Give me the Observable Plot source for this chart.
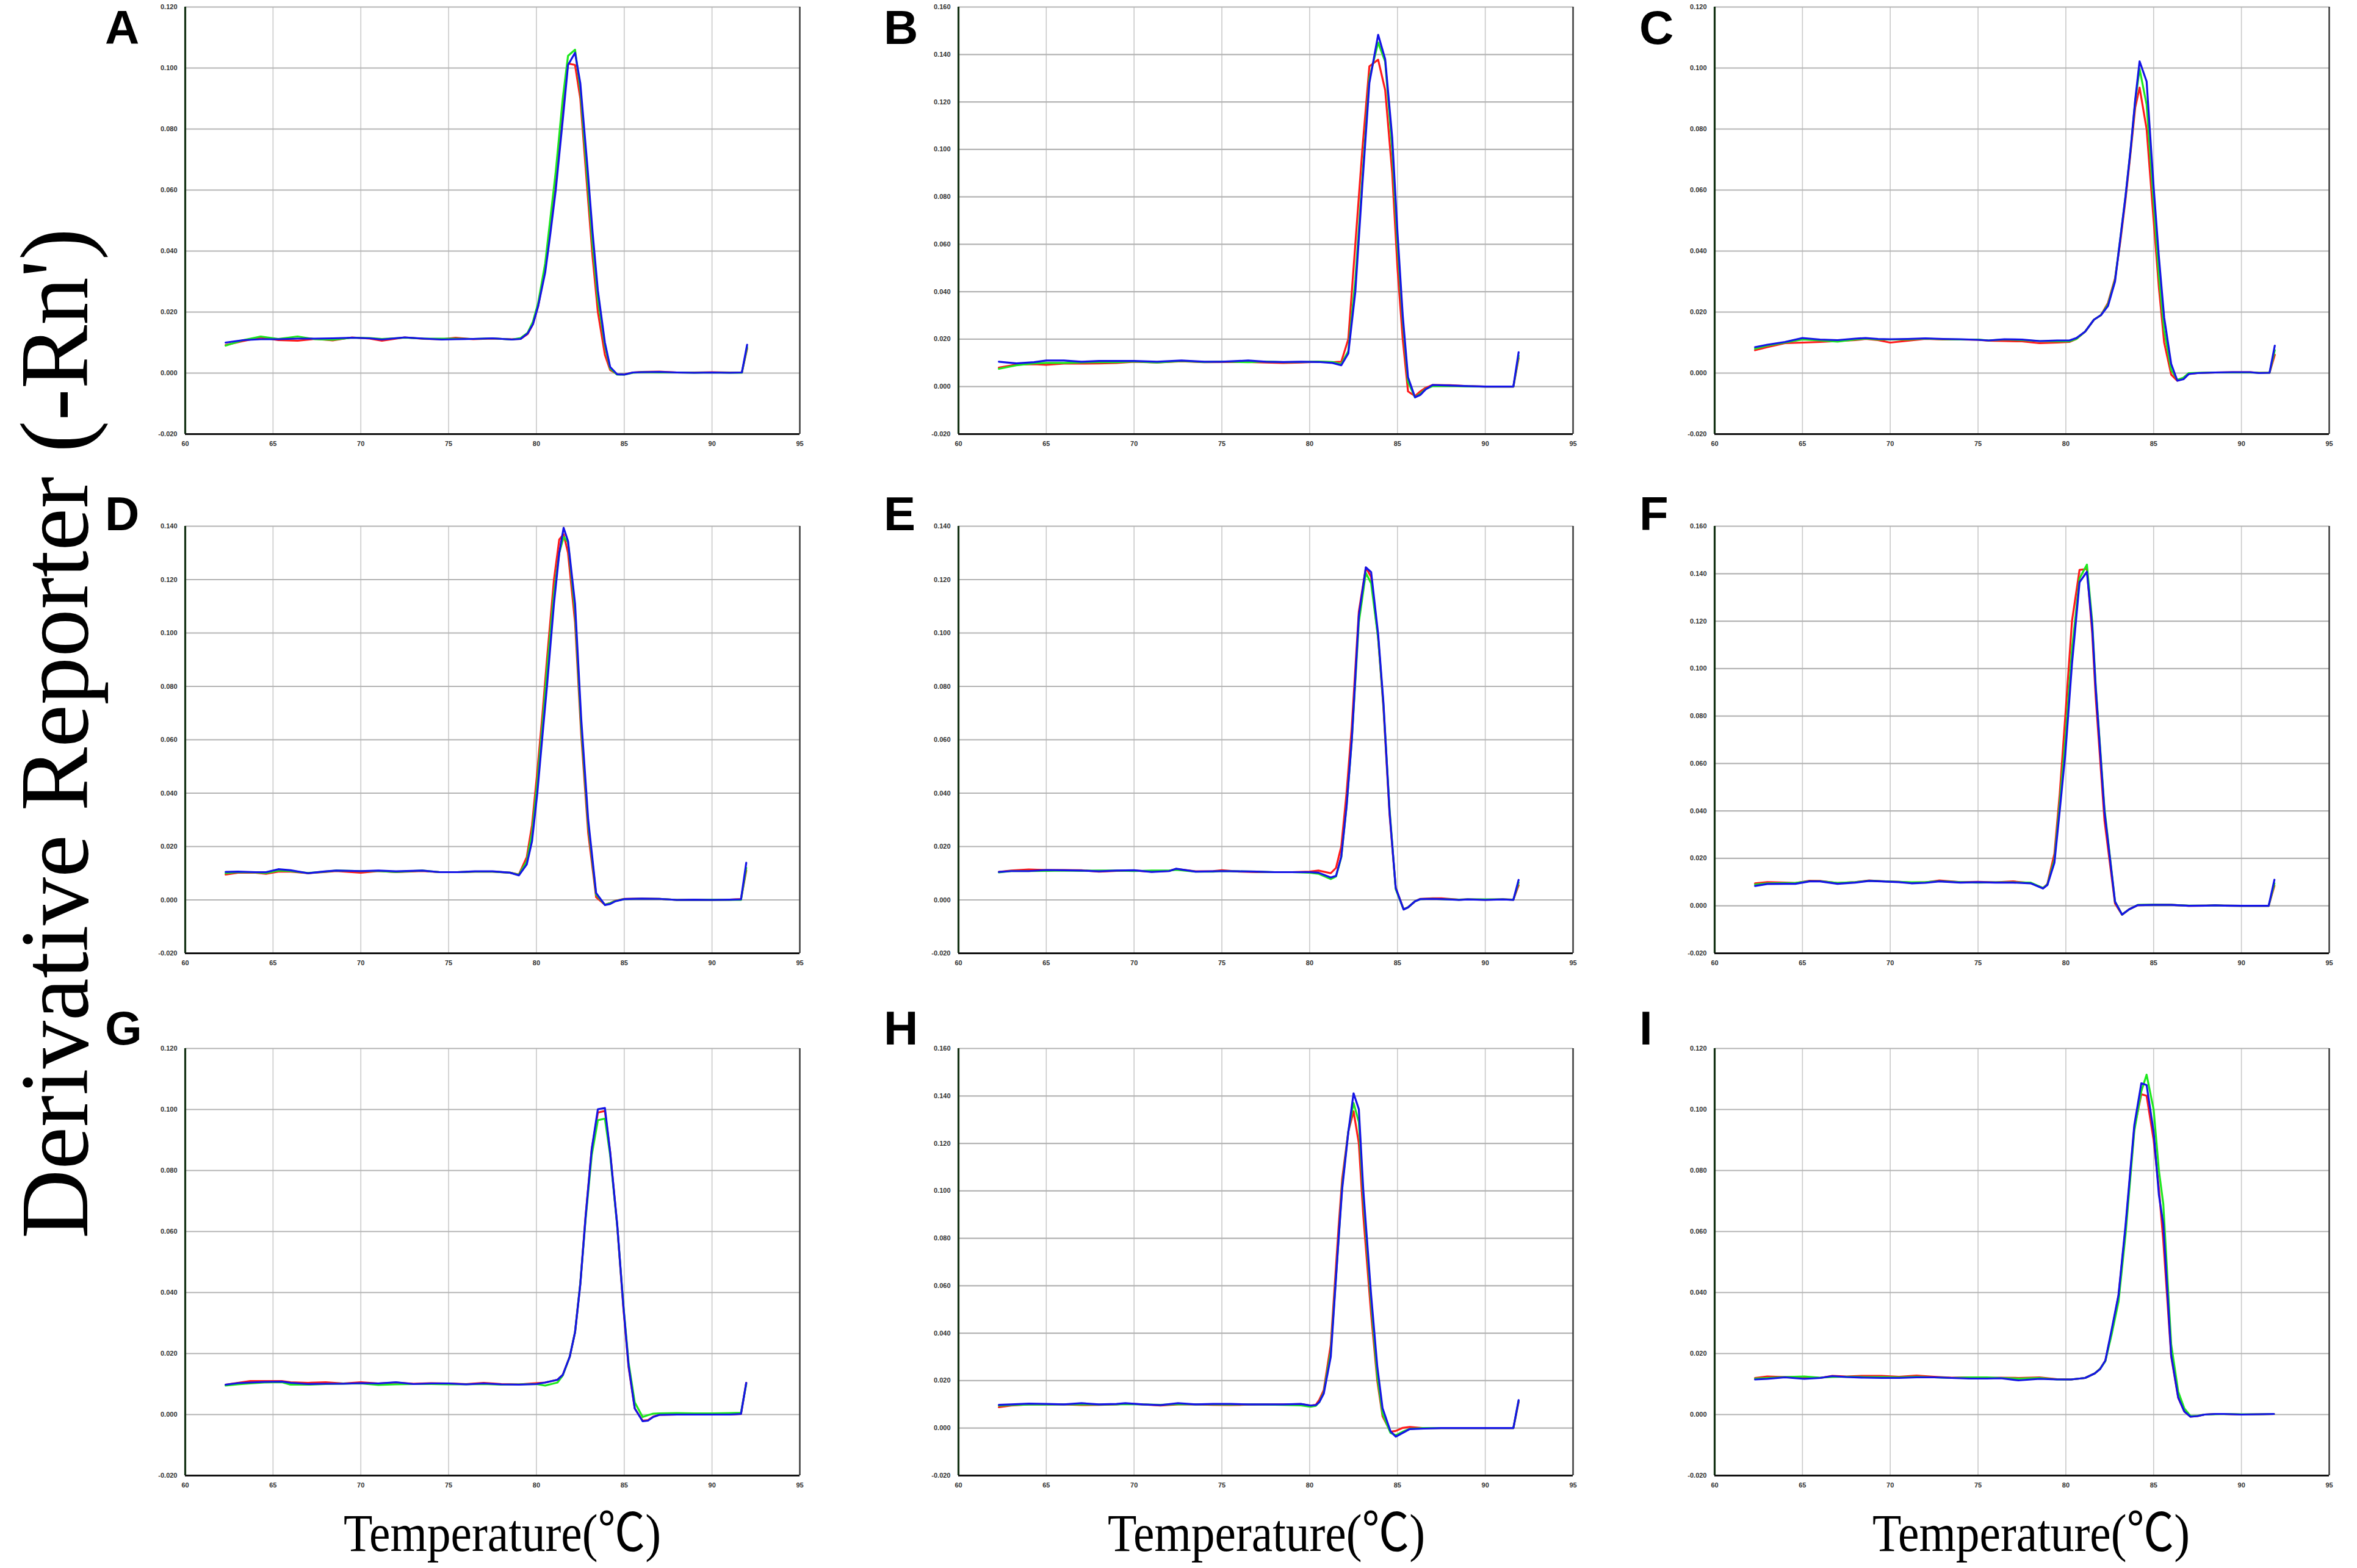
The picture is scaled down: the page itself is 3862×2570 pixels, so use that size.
<!DOCTYPE html>
<html>
<head>
<meta charset="utf-8">
<script src="https://cdn.jsdelivr.net/npm/d3@7"></script>
<script src="https://cdn.jsdelivr.net/npm/@observablehq/plot@0.6"></script>
<style>
  html, body { margin: 0; padding: 0; background: #fff; overflow: hidden; }
  #fig { position: relative; width: 3862px; height: 2570px; background: #fff; }
  .panel { position: absolute; }
  #overlay { position: absolute; left: 0; top: 0; pointer-events: none; }
</style>
</head>
<body>
<div id="fig"></div>
<script>
// ---------- tick values ----------
const X_TICKS = [60, 65, 70, 75, 80, 85, 90, 95];
const X_GRID = [65, 70, 75, 80, 85, 90];
const Y_TICKS_120 = [-0.02, 0, 0.02, 0.04, 0.06, 0.08, 0.10, 0.12];
const Y_TICKS_140 = [-0.02, 0, 0.02, 0.04, 0.06, 0.08, 0.10, 0.12, 0.14];
const Y_TICKS_160 = [-0.02, 0, 0.02, 0.04, 0.06, 0.08, 0.10, 0.12, 0.14, 0.16];
const PANEL_LABELS = ["A", "B", "C", "D", "E", "F", "G", "H", "I"];
const Y_TITLE = "Derivative Reporter (-Rn')";
const X_TITLE = "Temperature(\u2103)";

// ---------- Panel A ----------
const A_T = [62.3,63.3,64.3,65.3,66.4,67.4,68.4,69.5,70.5,71.2,72.5,73.6,74.6,75.4,76.4,77.5,78.6,79.1,79.5,79.8,80.1,80.5,80.8,81.1,81.5,81.8,82.2,82.5,82.9,83.2,83.5,83.9,84.2,84.6,85.0,85.5,86.0,87.0,88.0,89.0,90.0,91.0,91.7,92.0];
const A_R = [0.0092,0.0105,0.0117,0.0108,0.0106,0.0112,0.0107,0.0117,0.0113,0.0106,0.0117,0.0112,0.0111,0.0116,0.0111,0.0113,0.0111,0.0112,0.0128,0.0160,0.0220,0.0340,0.0480,0.0630,0.0870,0.1015,0.1010,0.0900,0.0600,0.0380,0.0200,0.0060,0.0010,-0.0004,-0.0004,0.0002,0.0004,0.0005,0.0002,0.0002,0.0003,0.0002,0.0002,0.0080];
const A_G = [0.0090,0.0108,0.0120,0.0112,0.0120,0.0111,0.0109,0.0116,0.0115,0.0112,0.0116,0.0113,0.0113,0.0113,0.0112,0.0114,0.0110,0.0115,0.0132,0.0168,0.0230,0.0360,0.0510,0.0660,0.0900,0.1040,0.1060,0.0930,0.0640,0.0420,0.0240,0.0090,0.0015,-0.0005,-0.0005,0.0001,0.0003,0.0002,0.0002,0.0001,0.0002,0.0001,0.0001,0.0085];
const A_B = [0.0100,0.0108,0.0111,0.0111,0.0113,0.0113,0.0114,0.0116,0.0114,0.0110,0.0117,0.0113,0.0110,0.0111,0.0112,0.0114,0.0110,0.0112,0.0130,0.0160,0.0220,0.0330,0.0460,0.0600,0.0830,0.1010,0.1050,0.0950,0.0680,0.0460,0.0270,0.0100,0.0020,-0.0004,-0.0005,0.0002,0.0003,0.0004,0.0002,0.0001,0.0002,0.0001,0.0002,0.0093];

// ---------- Panel B ----------
const B_T = [62.3,63.3,64.3,65.0,66.0,67.0,68.0,69.0,70.0,71.3,72.7,74.0,75.0,76.5,77.5,78.5,79.5,80.5,81.3,81.8,82.2,82.6,83.0,83.4,83.9,84.3,84.7,85.0,85.3,85.6,86.0,86.3,86.6,87.0,88.0,89.0,90.0,91.0,91.6,91.9];
const B_R = [0.0080,0.0093,0.0095,0.0092,0.0097,0.0097,0.0098,0.0100,0.0105,0.0102,0.0107,0.0103,0.0104,0.0104,0.0102,0.0100,0.0102,0.0105,0.0103,0.0105,0.0200,0.0600,0.1000,0.1350,0.1378,0.1250,0.0900,0.0500,0.0200,-0.0020,-0.0040,-0.0020,-0.0005,0.0007,0.0006,0.0002,0.0000,0.0000,0.0000,0.0120];
const B_G = [0.0075,0.0090,0.0098,0.0100,0.0100,0.0102,0.0103,0.0103,0.0106,0.0102,0.0108,0.0104,0.0106,0.0103,0.0106,0.0103,0.0104,0.0106,0.0104,0.0095,0.0150,0.0450,0.0880,0.1300,0.1450,0.1370,0.1000,0.0600,0.0280,0.0020,-0.0045,-0.0030,-0.0010,0.0002,0.0003,0.0001,0.0000,0.0000,0.0000,0.0130];
const B_B = [0.0105,0.0098,0.0103,0.0110,0.0110,0.0105,0.0108,0.0108,0.0108,0.0105,0.0110,0.0105,0.0105,0.0110,0.0105,0.0104,0.0105,0.0104,0.0100,0.0090,0.0140,0.0400,0.0850,0.1280,0.1483,0.1380,0.1050,0.0650,0.0300,0.0040,-0.0045,-0.0035,-0.0012,0.0007,0.0005,0.0002,0.0000,0.0000,0.0000,0.0145];

// ---------- Panel C ----------
const C_T = [62.3,63.0,64.0,65.0,66.0,67.0,68.0,68.6,69.3,70.0,71.0,72.0,73.0,74.0,75.0,75.6,76.5,77.5,78.5,79.5,80.2,80.6,81.1,81.6,82.0,82.4,82.8,83.1,83.4,83.7,83.95,84.2,84.6,85.0,85.3,85.6,86.0,86.35,86.7,87.0,87.5,88.5,89.5,90.5,91.0,91.6,91.9];
const C_R = [0.0075,0.0085,0.0098,0.0100,0.0102,0.0105,0.0108,0.0112,0.0108,0.0100,0.0106,0.0112,0.0110,0.0110,0.0109,0.0106,0.0105,0.0104,0.0098,0.0100,0.0102,0.0112,0.0136,0.0175,0.0190,0.0230,0.0310,0.0430,0.0570,0.0730,0.0870,0.0936,0.0800,0.0500,0.0280,0.0100,-0.0005,-0.0025,-0.0018,-0.0003,0.0000,0.0002,0.0003,0.0003,0.0001,0.0001,0.0060];
const C_G = [0.0080,0.0090,0.0100,0.0110,0.0107,0.0103,0.0110,0.0113,0.0110,0.0110,0.0110,0.0113,0.0111,0.0110,0.0110,0.0107,0.0110,0.0108,0.0105,0.0104,0.0104,0.0112,0.0136,0.0175,0.0190,0.0225,0.0305,0.0440,0.0580,0.0740,0.0890,0.0997,0.0880,0.0560,0.0320,0.0140,0.0010,-0.0022,-0.0015,0.0000,0.0001,0.0002,0.0002,0.0002,0.0001,0.0001,0.0075];
const C_B = [0.0085,0.0093,0.0102,0.0115,0.0110,0.0108,0.0113,0.0115,0.0112,0.0111,0.0112,0.0114,0.0112,0.0111,0.0109,0.0107,0.0111,0.0110,0.0105,0.0107,0.0107,0.0115,0.0136,0.0175,0.0190,0.0220,0.0300,0.0440,0.0580,0.0740,0.0895,0.1022,0.0956,0.0610,0.0380,0.0182,0.0030,-0.0025,-0.0020,-0.0003,0.0000,0.0002,0.0003,0.0003,0.0000,0.0001,0.0090];

// ---------- Panel D ----------
const D_T = [62.3,63.0,64.0,64.6,65.3,66.0,67.0,68.0,68.6,70.0,71.0,72.0,73.5,74.5,75.5,76.5,77.5,78.5,79.0,79.45,79.75,80.05,80.35,80.6,81.0,81.3,81.55,81.8,82.2,82.55,82.95,83.4,83.9,84.2,84.5,85.0,86.0,87.0,88.0,89.0,90.0,91.0,91.65,91.95];
const D_R = [0.0095,0.0102,0.0102,0.0098,0.0106,0.0106,0.0100,0.0105,0.0108,0.0102,0.0108,0.0104,0.0108,0.0104,0.0104,0.0106,0.0106,0.0102,0.0095,0.0160,0.0280,0.0480,0.0700,0.0900,0.1200,0.1350,0.1370,0.1300,0.1040,0.0620,0.0250,0.0010,-0.0018,-0.0012,-0.0003,0.0004,0.0005,0.0004,0.0000,0.0001,0.0000,0.0001,0.0003,0.0110];
const D_G = [0.0100,0.0104,0.0103,0.0101,0.0110,0.0108,0.0101,0.0106,0.0110,0.0108,0.0108,0.0105,0.0110,0.0104,0.0104,0.0106,0.0106,0.0102,0.0094,0.0145,0.0250,0.0440,0.0660,0.0860,0.1150,0.1300,0.1360,0.1340,0.1080,0.0650,0.0280,0.0020,-0.0018,-0.0012,-0.0004,0.0003,0.0004,0.0004,0.0000,0.0000,0.0001,0.0000,0.0000,0.0120];
const D_B = [0.0105,0.0106,0.0104,0.0104,0.0115,0.0111,0.0100,0.0107,0.0110,0.0108,0.0110,0.0107,0.0110,0.0104,0.0104,0.0107,0.0107,0.0102,0.0092,0.0133,0.0220,0.0400,0.0620,0.0800,0.1110,0.1300,0.1394,0.1344,0.1110,0.0680,0.0300,0.0026,-0.0019,-0.0015,-0.0005,0.0003,0.0005,0.0004,0.0000,0.0001,0.0000,0.0001,0.0002,0.0139];

// ---------- Panel E ----------
const E_T = [62.3,63.0,64.0,65.0,66.0,67.0,68.0,69.0,70.0,71.0,72.0,72.4,73.5,74.5,75.0,76.0,77.0,78.0,79.0,80.0,80.5,81.2,81.5,81.8,82.1,82.4,82.8,83.2,83.5,83.9,84.2,84.55,84.9,85.35,85.6,86.0,86.3,87.0,87.5,88.5,89.0,90.0,91.0,91.6,91.9];
const E_R = [0.0105,0.0110,0.0114,0.0112,0.0112,0.0111,0.0106,0.0109,0.0110,0.0106,0.0109,0.0116,0.0107,0.0108,0.0111,0.0106,0.0104,0.0104,0.0104,0.0106,0.0110,0.0100,0.0120,0.0200,0.0400,0.0650,0.1080,0.1245,0.1210,0.0980,0.0720,0.0320,0.0045,-0.0035,-0.0028,-0.0005,0.0004,0.0006,0.0006,0.0001,0.0002,0.0001,0.0002,0.0001,0.0055];
const E_G = [0.0103,0.0108,0.0108,0.0109,0.0110,0.0109,0.0110,0.0110,0.0108,0.0110,0.0110,0.0113,0.0106,0.0106,0.0108,0.0107,0.0106,0.0104,0.0104,0.0102,0.0098,0.0078,0.0088,0.0160,0.0350,0.0600,0.1040,0.1225,0.1186,0.0980,0.0730,0.0340,0.0040,-0.0035,-0.0028,-0.0005,0.0003,0.0004,0.0003,0.0001,0.0002,0.0002,0.0002,0.0001,0.0065];
const E_B = [0.0105,0.0108,0.0108,0.0112,0.0111,0.0110,0.0107,0.0110,0.0111,0.0105,0.0108,0.0117,0.0106,0.0107,0.0108,0.0107,0.0106,0.0104,0.0104,0.0104,0.0102,0.0084,0.0090,0.0162,0.0350,0.0600,0.1065,0.1246,0.1228,0.0995,0.0740,0.0330,0.0045,-0.0036,-0.0028,-0.0005,0.0003,0.0004,0.0003,0.0000,0.0002,0.0000,0.0002,0.0000,0.0075];

// ---------- Panel F ----------
const F_T = [62.3,63.0,64.0,64.6,65.4,66.0,67.0,68.0,68.8,69.5,70.5,71.2,72.0,72.8,74.0,75.0,76.0,77.0,78.0,78.7,78.95,79.35,79.65,79.97,80.35,80.78,81.2,81.5,81.7,82.2,82.8,83.2,83.6,84.1,85.0,86.0,87.0,88.0,88.5,89.0,90.0,91.0,91.55,91.88];
const F_R = [0.0095,0.0100,0.0098,0.0096,0.0106,0.0105,0.0096,0.0100,0.0107,0.0104,0.0101,0.0098,0.0099,0.0107,0.0100,0.0101,0.0099,0.0103,0.0096,0.0075,0.0092,0.0220,0.0470,0.0800,0.1200,0.1416,0.1420,0.1150,0.0880,0.0360,0.0010,-0.0037,-0.0015,0.0003,0.0004,0.0004,0.0000,0.0001,0.0002,0.0001,0.0000,0.0000,0.0000,0.0085];
const F_G = [0.0090,0.0095,0.0096,0.0097,0.0104,0.0104,0.0097,0.0100,0.0106,0.0104,0.0101,0.0099,0.0100,0.0104,0.0100,0.0098,0.0099,0.0099,0.0098,0.0075,0.0090,0.0195,0.0430,0.0700,0.1080,0.1380,0.1438,0.1200,0.0930,0.0410,0.0018,-0.0037,-0.0015,0.0004,0.0005,0.0004,0.0001,0.0001,0.0002,0.0001,0.0000,0.0000,0.0000,0.0095];
const F_B = [0.0084,0.0092,0.0093,0.0093,0.0103,0.0103,0.0093,0.0098,0.0105,0.0103,0.0100,0.0095,0.0097,0.0103,0.0098,0.0100,0.0098,0.0098,0.0095,0.0073,0.0088,0.0182,0.0400,0.0640,0.1020,0.1364,0.1408,0.1180,0.0920,0.0398,0.0018,-0.0037,-0.0015,0.0003,0.0004,0.0004,0.0000,0.0001,0.0002,0.0001,0.0000,0.0000,0.0000,0.0110];

// ---------- Panel G ----------
const G_T = [62.3,63.0,63.7,64.5,65.5,66.0,67.0,68.0,69.0,70.0,71.0,72.0,73.0,74.0,75.0,76.0,77.0,78.0,79.0,80.0,80.5,81.2,81.5,81.9,82.2,82.5,82.8,83.15,83.5,83.9,84.2,84.6,84.95,85.25,85.6,86.05,86.35,86.65,87.0,88.0,89.0,90.0,91.0,91.65,91.95];
const G_R = [0.0098,0.0104,0.0110,0.0110,0.0110,0.0106,0.0104,0.0106,0.0102,0.0106,0.0102,0.0105,0.0101,0.0103,0.0102,0.0100,0.0104,0.0100,0.0099,0.0103,0.0105,0.0114,0.0130,0.0190,0.0270,0.0430,0.0650,0.0870,0.0990,0.0995,0.0860,0.0620,0.0350,0.0155,0.0020,-0.0020,-0.0018,-0.0007,-0.0001,0.0000,0.0000,0.0000,0.0000,0.0002,0.0104];
const G_G = [0.0095,0.0099,0.0102,0.0105,0.0106,0.0098,0.0098,0.0100,0.0101,0.0102,0.0097,0.0099,0.0100,0.0100,0.0099,0.0099,0.0100,0.0098,0.0099,0.0100,0.0095,0.0105,0.0128,0.0190,0.0270,0.0430,0.0640,0.0850,0.0965,0.0970,0.0850,0.0620,0.0360,0.0170,0.0040,-0.0008,-0.0002,0.0003,0.0004,0.0005,0.0004,0.0004,0.0005,0.0006,0.0100];
const G_B = [0.0098,0.0103,0.0105,0.0107,0.0108,0.0104,0.0100,0.0101,0.0101,0.0103,0.0102,0.0106,0.0100,0.0102,0.0102,0.0099,0.0102,0.0099,0.0098,0.0100,0.0105,0.0114,0.0130,0.0190,0.0270,0.0427,0.0647,0.0870,0.1001,0.1005,0.0860,0.0624,0.0357,0.0160,0.0020,-0.0022,-0.0020,-0.0008,-0.0001,0.0000,0.0000,0.0000,0.0000,0.0002,0.0104];

// ---------- Panel H ----------
const H_T = [62.3,63.0,64.0,65.0,66.0,67.0,68.0,69.0,69.5,70.5,71.5,72.5,73.5,74.5,75.5,76.5,77.5,78.5,79.5,80.05,80.35,80.55,80.8,81.2,81.65,81.85,82.2,82.5,82.8,83.05,83.5,83.85,84.15,84.6,84.9,85.3,85.7,86.5,87.5,88.5,89.5,90.5,91.6,91.9];
const H_R = [0.0088,0.0095,0.0100,0.0100,0.0100,0.0097,0.0098,0.0100,0.0103,0.0100,0.0095,0.0100,0.0100,0.0098,0.0097,0.0099,0.0100,0.0100,0.0101,0.0095,0.0098,0.0120,0.0160,0.0350,0.0850,0.1050,0.1250,0.1335,0.1200,0.0900,0.0480,0.0200,0.0050,-0.0015,-0.0012,0.0001,0.0005,0.0000,0.0000,0.0000,0.0000,0.0000,0.0000,0.0110];
const H_G = [0.0095,0.0097,0.0099,0.0099,0.0100,0.0100,0.0099,0.0100,0.0101,0.0100,0.0098,0.0101,0.0100,0.0100,0.0099,0.0100,0.0099,0.0098,0.0096,0.0090,0.0094,0.0110,0.0150,0.0320,0.0800,0.1020,0.1250,0.1370,0.1290,0.0980,0.0530,0.0220,0.0060,-0.0020,-0.0030,-0.0015,-0.0003,0.0000,0.0000,0.0000,0.0000,0.0000,0.0000,0.0115];
const H_B = [0.0098,0.0100,0.0103,0.0102,0.0100,0.0105,0.0100,0.0102,0.0105,0.0100,0.0097,0.0105,0.0100,0.0102,0.0102,0.0100,0.0100,0.0100,0.0102,0.0095,0.0097,0.0110,0.0145,0.0300,0.0800,0.1007,0.1247,0.1411,0.1344,0.1008,0.0560,0.0260,0.0084,-0.0013,-0.0036,-0.0020,-0.0004,-0.0002,0.0000,0.0000,0.0000,0.0000,0.0000,0.0118];

// ---------- Panel I ----------
const I_T = [62.3,63.0,64.0,65.1,66.0,66.7,67.5,68.5,69.5,70.5,71.5,72.5,73.5,74.5,75.5,76.3,77.3,78.5,79.5,80.3,81.1,81.65,81.95,82.25,82.6,83.0,83.4,83.9,84.3,84.6,85.0,85.3,85.55,86.0,86.4,86.75,87.1,87.5,87.9,88.5,89.0,90.0,91.0,91.85];
const I_R = [0.0120,0.0125,0.0123,0.0122,0.0120,0.0127,0.0125,0.0127,0.0127,0.0124,0.0128,0.0124,0.0121,0.0122,0.0120,0.0121,0.0120,0.0122,0.0116,0.0115,0.0120,0.0135,0.0150,0.0177,0.0270,0.0390,0.0610,0.0940,0.1050,0.1045,0.0900,0.0740,0.0570,0.0190,0.0055,0.0010,-0.0007,-0.0005,0.0000,0.0002,0.0002,0.0000,0.0001,0.0002];
const I_G = [0.0118,0.0120,0.0123,0.0125,0.0121,0.0123,0.0124,0.0123,0.0123,0.0122,0.0124,0.0122,0.0120,0.0122,0.0122,0.0120,0.0118,0.0120,0.0115,0.0115,0.0120,0.0135,0.0150,0.0175,0.0260,0.0370,0.0590,0.0930,0.1060,0.1114,0.1000,0.0800,0.0690,0.0230,0.0075,0.0020,-0.0005,-0.0004,0.0000,0.0001,0.0002,0.0001,0.0001,0.0002];
const I_B = [0.0115,0.0117,0.0122,0.0117,0.0120,0.0126,0.0123,0.0121,0.0120,0.0120,0.0122,0.0122,0.0120,0.0118,0.0118,0.0119,0.0112,0.0117,0.0115,0.0115,0.0120,0.0135,0.0149,0.0177,0.0276,0.0392,0.0620,0.0949,0.1086,0.1080,0.0926,0.0720,0.0624,0.0195,0.0056,0.0010,-0.0007,-0.0005,0.0000,0.0002,0.0002,0.0000,0.0001,0.0002];

// ---------- assemble ----------
const PANELS = [
  {T: A_T, R: A_R, G: A_G, B: A_B, yt: Y_TICKS_120},
  {T: B_T, R: B_R, G: B_G, B: B_B, yt: Y_TICKS_160},
  {T: C_T, R: C_R, G: C_G, B: C_B, yt: Y_TICKS_120},
  {T: D_T, R: D_R, G: D_G, B: D_B, yt: Y_TICKS_140},
  {T: E_T, R: E_R, G: E_G, B: E_B, yt: Y_TICKS_140},
  {T: F_T, R: F_R, G: F_G, B: F_B, yt: Y_TICKS_160},
  {T: G_T, R: G_R, G: G_G, B: G_B, yt: Y_TICKS_120},
  {T: H_T, R: H_R, G: H_G, B: H_B, yt: Y_TICKS_160},
  {T: I_T, R: I_R, G: I_G, B: I_B, yt: Y_TICKS_120}
];

const COL_LEFT = [303, 1570, 2809];
const ROW_TOP = [11, 862, 1718];
const PW = 1007, PH = 700;
const ML = 80, MR = 14, MT = 12, MB = 40;

const fig = document.getElementById("fig");

PANELS.forEach((p, i) => {
  const r = Math.floor(i / 3), c = i % 3;
  const rows = p.T.map((t, k) => ({t, red: p.R[k], green: p.G[k], blue: p.B[k]}));
  const ymax = p.yt[p.yt.length - 1];
  const chart = Plot.plot({
    width: PW + ML + MR,
    height: PH + MT + MB,
    marginLeft: ML, marginRight: MR, marginTop: MT, marginBottom: MB,
    style: {fontFamily: "'Liberation Sans', Arial, sans-serif", fontSize: "11px", fontWeight: "bold", color: "#333", background: "#fff", overflow: "visible"},
    x: {domain: [60, 95]},
    y: {domain: [-0.02, ymax]},
    marks: [
      Plot.ruleX(X_GRID, {stroke: "#c9c9c9", strokeWidth: 1.6}),
      Plot.ruleY(p.yt.filter(v => v > -0.02), {stroke: "#b3b3b3", strokeWidth: 2.2}),
      Plot.ruleX([95], {stroke: "#3a3a3a", strokeWidth: 2.5}),
      Plot.line(rows, {x: "t", y: "red", stroke: "#ff1a1a", strokeWidth: 3.2}),
      Plot.line(rows, {x: "t", y: "green", stroke: "#1ee81e", strokeWidth: 3.2}),
      Plot.line(rows, {x: "t", y: "blue", stroke: "#1414e6", strokeWidth: 3.2}),
      Plot.ruleX([60], {stroke: "#143214", strokeWidth: 3.2}),
      Plot.ruleY([-0.02], {stroke: "#111", strokeWidth: 3.2}),
      Plot.axisX({ticks: X_TICKS, tickSize: 0, tickPadding: 12, tickFormat: d => String(d), label: null, fill: "#333"}),
      Plot.axisY({ticks: p.yt, tickSize: 0, tickPadding: 13, tickFormat: d => d.toFixed(3), label: null, fill: "#333"})
    ]
  });
  const holder = document.createElement("div");
  holder.className = "panel";
  holder.style.left = (COL_LEFT[c] - ML) + "px";
  holder.style.top = (ROW_TOP[r] - MT) + "px";
  holder.appendChild(chart);
  fig.appendChild(holder);
});

// ---------- annotations (panel letters, shared axis titles) ----------
const LETTER_LEFT = [172, 1448, 2686];
const LETTER_BASE = [72, 869, 1712];
const XT_CENTER = [823, 2075, 3328];

const ov = d3.select(fig).append("svg")
  .attr("id", "overlay").attr("width", 3862).attr("height", 2570);

PANEL_LABELS.forEach((lab, i) => {
  const r = Math.floor(i / 3), c = i % 3;
  ov.append("text")
    .attr("x", LETTER_LEFT[c]).attr("y", LETTER_BASE[r])
    .attr("font-family", "'Liberation Sans', Arial, sans-serif")
    .attr("font-weight", "bold").attr("font-size", 78).attr("fill", "#000")
    .text(lab);
});

ov.append("text")
  .attr("transform", "translate(143,1202) rotate(-90)")
  .attr("text-anchor", "middle")
  .attr("font-family", "'Liberation Serif', 'Times New Roman', serif")
  .attr("font-size", 158).attr("fill", "#000")
  .attr("textLength", 1656).attr("lengthAdjust", "spacingAndGlyphs")
  .text(Y_TITLE);

XT_CENTER.forEach(cx => {
  ov.append("text")
    .attr("x", cx).attr("y", 2542)
    .attr("text-anchor", "middle")
    .attr("font-family", "'Liberation Serif', 'Times New Roman', 'Noto Sans CJK SC', serif")
    .attr("font-size", 86).attr("fill", "#000")
    .attr("textLength", 520).attr("lengthAdjust", "spacingAndGlyphs")
    .text(X_TITLE);
});
</script>
</body>
</html>
